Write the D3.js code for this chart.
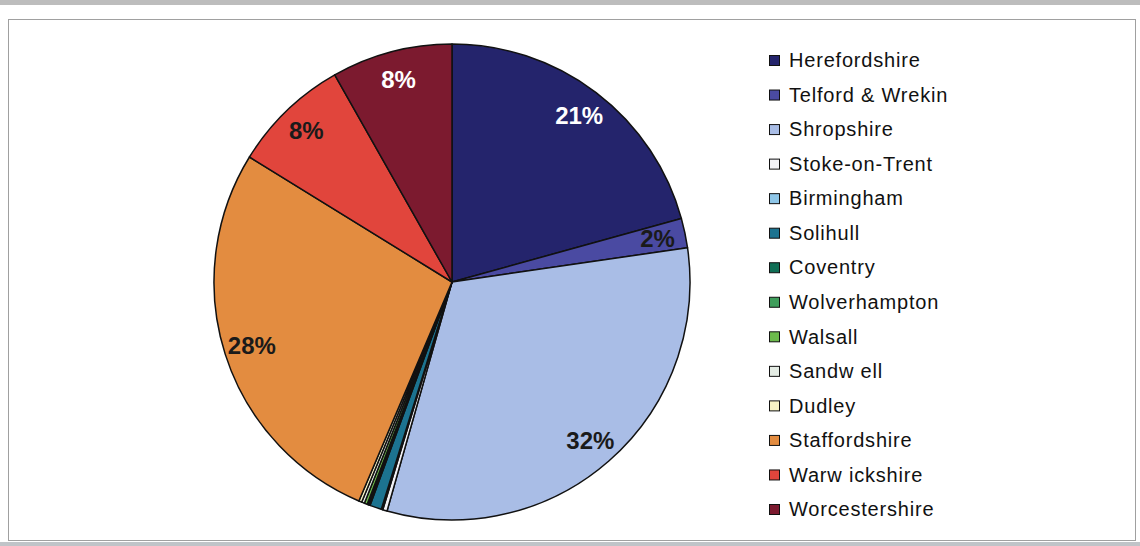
<!DOCTYPE html>
<html>
<head>
<meta charset="utf-8">
<script src="https://cdn.jsdelivr.net/npm/d3@7"></script>
<style>
body { margin: 0; background: #fff; }
svg { display: block; font-family: "Liberation Sans", Arial, sans-serif; }
</style>
</head>
<body>
<script>
var width = 1140;
var height = 546;

// share of each area, in percent, clockwise from 12 o'clock
var areas = ["Herefordshire", "Telford & Wrekin", "Shropshire", "Stoke-on-Trent", "Birmingham",
    "Solihull", "Coventry", "Wolverhampton", "Walsall", "Sandwell", "Dudley",
    "Staffordshire", "Warwickshire", "Worcestershire"];
var legendNames = ["Herefordshire", "Telford & Wrekin", "Shropshire", "Stoke-on-Trent", "Birmingham",
    "Solihull", "Coventry", "Wolverhampton", "Walsall", "Sandw ell", "Dudley",
    "Staffordshire", "Warw ickshire", "Worcestershire"];
var shares = [20.7, 2.0, 31.7, 0.3, 0.1, 0.8, 0.1, 0.1, 0.2, 0.2, 0.2, 27.4, 8.0, 8.2];
var labels = ["21%", "2%", "32%", "", "", "", "", "", "", "", "", "28%", "8%", "8%"];
var labelColors = ["#fff", "#1a1a1a", "#1a1a1a", "", "", "", "", "", "", "", "", "#1a1a1a", "#1a1a1a", "#fff"];
var colors = ["#24246c", "#4a4aa2", "#a9bde6", "#f2f2f6", "#8ec6e8", "#1c7390", "#0f6e55",
    "#3f9e5b", "#6cba4c", "#e4ece4", "#f7f3c6", "#e38c40", "#e1453c", "#7c1a2f"];

var svg = d3.select("body").append("svg").attr("width", width).attr("height", height);

// scanned page edges
svg.append("rect").attr("x", 0).attr("y", 0).attr("width", width).attr("height", 5).attr("fill", "#bdbdbd");
svg.append("rect").attr("x", 0).attr("y", 542).attr("width", width).attr("height", 4).attr("fill", "#c0c4c8");
svg.append("rect").attr("x", 8.5).attr("y", 19.5).attr("width", 1127).attr("height", 521)
    .attr("fill", "none").attr("stroke", "#a0a0a0").attr("stroke-width", 1);

var cx = 452, cy = 282, radius = 238;

var color = d3.scaleOrdinal().domain(areas).range(colors);

var pie = d3.pie().sort(null).value(function (d) {
    return d.value;
});
var data = areas.map(function (a, i) {
    return {name: a, value: shares[i], label: labels[i], labelColor: labelColors[i]};
});
var arcs = pie(data);

var arc = d3.arc().innerRadius(0).outerRadius(radius);
var labelArc = d3.arc().innerRadius(210).outerRadius(210);

var g = svg.append("g").attr("transform", "translate(" + cx + "," + cy + ")");

g.selectAll("path")
    .data(arcs)
    .enter().append("path")
    .attr("d", arc)
    .attr("fill", function (d) {
        return color(d.data.name);
    })
    .attr("stroke", "#111")
    .attr("stroke-width", 1.5)
    .attr("stroke-linejoin", "round");

g.selectAll("text")
    .data(arcs.filter(function (d) {
        return d.data.label;
    }))
    .enter().append("text")
    .attr("transform", function (d) {
        var c = labelArc.centroid(d);
        return "translate(" + c[0] + "," + c[1] + ")";
    })
    .attr("text-anchor", "middle")
    .attr("dy", "0.36em")
    .attr("font-size", "24px")
    .attr("font-weight", "bold")
    .attr("fill", function (d) {
        return d.data.labelColor;
    })
    .text(function (d) {
        return d.data.label;
    });

// legend
var legendY = d3.scalePoint().domain(areas).range([60, 509]);

var legend = svg.append("g").attr("class", "legend")
    .selectAll("g")
    .data(areas)
    .enter().append("g")
    .attr("transform", function (d) {
        return "translate(769," + legendY(d) + ")";
    });

legend.append("rect")
    .attr("x", 0.5).attr("y", -4.5)
    .attr("width", 10).attr("height", 10)
    .attr("fill", function (d) {
        return color(d);
    })
    .attr("stroke", "#111")
    .attr("stroke-width", 1);

legend.append("text")
    .attr("x", 20)
    .attr("y", 0)
    .attr("dy", "0.36em")
    .attr("font-size", "20px")
    .attr("letter-spacing", "0.8px")
    .attr("fill", "#111")
    .text(function (d, i) {
        return legendNames[i];
    });
</script>
</body>
</html>
